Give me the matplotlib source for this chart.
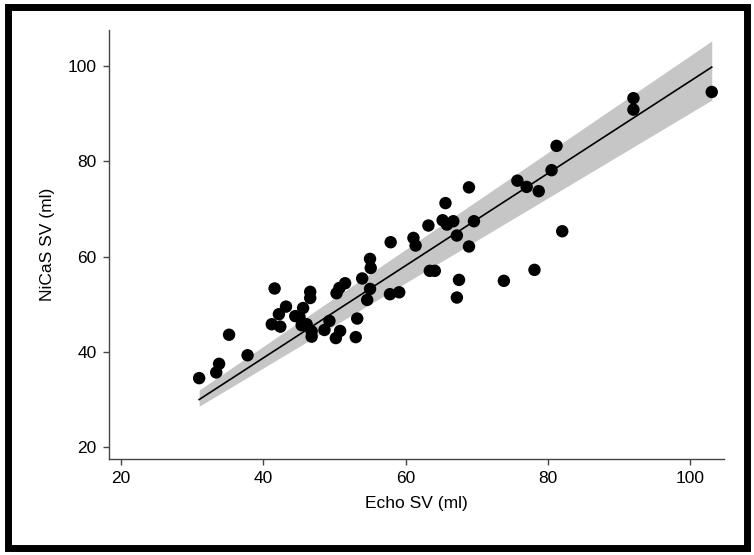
import matplotlib
matplotlib.use("Agg")
import matplotlib.pyplot as plt
import numpy as np
from matplotlib.patches import Rectangle

# Echo SV (ml) vs NiCaS SV (ml)
echo_sv = [31.0, 33.4, 33.8, 35.2, 37.8, 41.6, 41.2, 42.2, 42.4, 43.2,
           44.5, 45.1, 45.6, 45.4, 46.1, 46.6, 46.6, 46.8, 46.8, 48.6,
           49.3, 50.2, 50.8, 50.3, 50.7, 51.5, 53.0, 53.2, 53.9, 54.6,
           55.0, 55.0, 55.1, 57.8, 59.1, 57.9, 61.1, 61.4, 63.2, 63.4,
           64.1, 65.6, 65.2, 65.8, 66.7, 67.2, 67.5, 67.2, 68.9, 69.6,
           68.9, 73.8, 75.7, 77.0, 78.7, 78.1, 80.5, 81.2, 82.0, 92.0,
           92.0, 103.0]
nicas_sv = [34.5, 35.7, 37.5, 43.6, 39.3, 53.3, 45.8, 47.9, 45.3, 49.5,
            47.5, 47.3, 49.2, 45.6, 45.8, 52.6, 51.3, 44.3, 43.2, 44.6,
            46.5, 42.9, 44.4, 52.3, 53.4, 54.4, 43.1, 47.0, 55.4, 50.9,
            53.2, 59.5, 57.6, 52.1, 52.5, 63.0, 63.9, 62.3, 66.5, 57.0,
            57.0, 71.2, 67.6, 66.7, 67.4, 64.4, 55.1, 51.4, 62.1, 67.4,
            74.5, 54.9, 75.9, 74.6, 73.7, 57.2, 78.1, 83.2, 65.3, 93.2,
            90.8, 94.5]

# shaded band edges at the ends of the fit
band_x = [31.0, 103.0]
band_low = [28.6, 92.8]
band_high = [32.0, 105.2]

x_ticks = [20, 40, 60, 80, 100]
y_ticks = [20, 40, 60, 80, 100]

x = np.array(echo_sv)
y = np.array(nicas_sv)

# regression through the origin
slope = np.sum(x * y) / np.sum(x * x)
xf = np.array(band_x)
yf = slope * xf

plt.rcParams["font.family"] = ["Liberation Sans", "DejaVu Sans"]

fig = plt.figure(figsize=(7.54, 5.55), dpi=100)
ax = fig.add_axes([0.1446, 0.173, 0.8154, 0.773])

ax.fill_between(band_x, band_low, band_high, color="#c6c6c6",
                linewidth=0, zorder=1)
ax.plot(xf, yf, color="black", linewidth=1.2, zorder=2)
ax.scatter(x, y, s=80, color="black", edgecolors="none", zorder=3)

ax.set_xlim(18.34, 104.7)
ax.set_ylim(17.55, 107.5)
ax.set_xticks(x_ticks)
ax.set_yticks(y_ticks)

for side in ("top", "right"):
    ax.spines[side].set_visible(False)
for side in ("left", "bottom"):
    ax.spines[side].set_color("#444444")
    ax.spines[side].set_linewidth(1.0)

ax.tick_params(axis="both", direction="out", length=4, width=1.0,
               color="#444444", labelsize=12.5, pad=5)

ax.set_xlabel("Echo SV (ml)", fontsize=12.5, labelpad=7)
ax.set_ylabel("NiCaS SV (ml)", fontsize=12.5, labelpad=9)

# thick black frame around the whole figure
fig.patches.append(Rectangle((7.5 / 754, 1 - 548 / 555), 739 / 754, 541 / 555,
                             transform=fig.transFigure, fill=False,
                             edgecolor="black", linewidth=5.0))

fig.savefig("out.png", dpi=100)
plt.close(fig)
